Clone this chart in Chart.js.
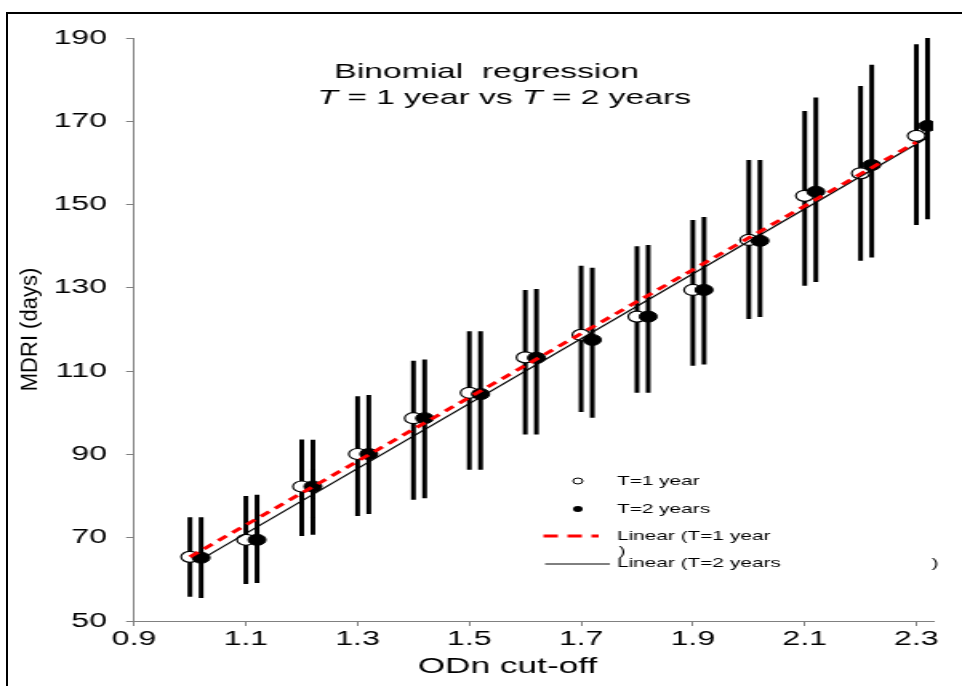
<!DOCTYPE html>
<html>
<head>
<meta charset="utf-8">
<script src="https://cdn.jsdelivr.net/npm/chart.js@4.4.1/dist/chart.umd.min.js"></script>
<style>
  html, body { margin: 0; padding: 0; background: #fff; overflow: hidden; }
  /* the reference chart is drawn wide: canvas is 601px and css stretches it to 962px */
  #chart { position: absolute; left: 0; top: 0; width: 962px; height: 686px; }
  #frame { position: absolute; left: 6px; top: 12px; right: 0; bottom: 0;
           border-left: 2px solid #000; border-top: 2px solid #000; pointer-events: none; }
</style>
</head>
<body>
<canvas id="chart" width="601" height="686" style="width:962px;height:686px"></canvas>
<div id="frame"></div>
<script>
const FONT = "'Liberation Sans', Arial, sans-serif"
const AXIS = "#808080"
const STRETCH = 962 / 601

// ODn cut-off
const odn1 = [1.0, 1.1, 1.2, 1.3, 1.4, 1.5, 1.6, 1.7, 1.8, 1.9, 2.0, 2.1, 2.2, 2.3]
const odn2 = [1.02, 1.12, 1.22, 1.32, 1.42, 1.52, 1.62, 1.72, 1.82, 1.92, 2.02, 2.12, 2.22, 2.32]

// MDRI (days), T = 1 year
const mdri1 = [65.4, 69.5, 82.3, 90.1, 98.7, 104.8, 113.3, 118.7, 123.1, 129.5, 141.5, 152.1, 157.5, 166.5]
const low1 = [55.8, 58.9, 70.4, 75.2, 79.1, 86.3, 94.8, 100.2, 104.8, 111.3, 122.5, 130.5, 136.5, 145.1]
const high1 = [74.9, 80.0, 93.6, 104.0, 112.5, 119.6, 129.5, 135.3, 140.0, 146.3, 160.7, 172.5, 178.5, 188.5]

// MDRI (days), T = 2 years
const mdri2 = [65.2, 69.5, 82.3, 90.1, 98.7, 104.5, 113.2, 117.5, 123.1, 129.5, 141.3, 153.1, 159.5, 168.9]
const low2 = [55.5, 59.1, 70.7, 75.7, 79.5, 86.3, 94.8, 98.8, 104.8, 111.6, 123.0, 131.4, 137.3, 146.5]
const high2 = [74.9, 80.3, 93.5, 104.3, 112.8, 119.6, 129.7, 134.8, 140.3, 147.0, 160.7, 175.7, 183.6, 190.3]

// linear trendlines, end points
const trendX1 = [1.0, 2.3]
const trendY1 = [65.4, 165.0]
const trendX2 = [1.02, 2.32]
const trendY2 = [64.8, 166.1]

const xTicks = [0.9, 1.1, 1.3, 1.5, 1.7, 1.9, 2.1, 2.3]
const yTicks = [50, 70, 90, 110, 130, 150, 170, 190]

const points = (xs, ys) => xs.map((x, i) => ({x, y: ys[i]}))

// one vertical segment per point, broken by a null
const errorBars = (xs, lo, hi) => {
  const out = []
  xs.forEach((x, i) => out.push({x, y: lo[i]}, {x, y: hi[i]}, {x, y: null}))
  return out
}

// write runs of plain / italic text centred on cx
const drawRuns = (ctx, runs, size, cx, cy) => {
  let total = 0
  runs.forEach(r => {
    ctx.font = `${r[1] ? "italic " : ""}${size}px ${FONT}`
    total += ctx.measureText(r[0]).width
  })
  let x = cx - total / 2
  ctx.textAlign = "left"
  runs.forEach(r => {
    ctx.font = `${r[1] ? "italic " : ""}${size}px ${FONT}`
    ctx.fillText(r[0], x, cy)
    x += ctx.measureText(r[0]).width
  })
}

const annotations = {
  id: "annotations",
  afterDraw(chart) {
    const ctx = chart.ctx
    ctx.save()
    ctx.fillStyle = "#000"
    ctx.textBaseline = "middle"

    // title
    drawRuns(ctx, [["Binomial  regression", false]], 21, 304, 72)
    drawRuns(ctx, [["T", true], [" = 1 year vs ", false], ["T", true], [" = 2 years", false]], 21, 315, 98)

    // x axis title
    ctx.font = `22px ${FONT}`
    ctx.textAlign = "center"
    ctx.fillText("ODn cut-off", 317, 667)

    // y axis title, not widened like the rest
    ctx.save()
    ctx.translate(19.5, (chart.chartArea.top + chart.chartArea.bottom) / 2)
    ctx.scale(1 / STRETCH, 1)
    ctx.rotate(-Math.PI / 2)
    ctx.fillText("MDRI (days)", 0, 0)
    ctx.restore()

    // legend
    ctx.lineWidth = 1
    ctx.strokeStyle = "#000"
    ctx.beginPath()
    ctx.arc(361, 481, 3, 0, Math.PI * 2)
    ctx.fillStyle = "#fff"
    ctx.fill()
    ctx.stroke()
    ctx.beginPath()
    ctx.arc(361, 509, 3, 0, Math.PI * 2)
    ctx.fillStyle = "#000"
    ctx.fill()

    ctx.beginPath()
    ctx.setLineDash([9, 6])
    ctx.lineWidth = 3
    ctx.strokeStyle = "#ff0000"
    ctx.moveTo(339.5, 536)
    ctx.lineTo(374, 536)
    ctx.stroke()
    ctx.setLineDash([])
    ctx.beginPath()
    ctx.lineWidth = 1
    ctx.strokeStyle = "#000"
    ctx.moveTo(340.5, 564)
    ctx.lineTo(381, 564)
    ctx.stroke()

    ctx.font = `13px ${FONT}`
    ctx.textAlign = "left"
    ctx.fillText("T=1 year", 385.5, 481)
    ctx.fillText("T=2 years", 385.5, 509)
    ctx.fillText("Linear (T=1 year", 385.5, 536)
    ctx.fillText(")", 386.5, 551)
    ctx.fillText("Linear (T=2 years", 385.5, 563)
    ctx.fillText(")", 582, 563)
    ctx.restore()
  }
}

new Chart(document.getElementById("chart"), {
  type: "scatter",
  data: {
    datasets: [
      {
        label: "Linear (T=1 year)",
        data: points(trendX1, trendY1),
        showLine: true,
        borderColor: "#ff0000",
        borderWidth: 3,
        borderDash: [7, 5],
        pointRadius: 0,
        order: 1,
      },
      {
        label: "Linear (T=2 years)",
        data: points(trendX2, trendY2),
        showLine: true,
        borderColor: "#000",
        borderWidth: 1.2,
        pointRadius: 0,
        order: 1,
      },
      {
        label: "T=2 years",
        data: points(odn2, mdri2),
        pointRadius: 5.5,
        backgroundColor: "#000",
        borderColor: "#000",
        borderWidth: 1,
        order: 2,
      },
      {
        label: "T=1 year",
        data: points(odn1, mdri1),
        pointRadius: 5.5,
        backgroundColor: "#fff",
        borderColor: "#000",
        borderWidth: 1.2,
        order: 3,
      },
      {
        label: "T=2 years range",
        data: errorBars(odn2, low2, high2),
        showLine: true,
        borderColor: "#000",
        borderWidth: 3,
        pointRadius: 0,
        order: 4,
      },
      {
        label: "T=1 year range",
        data: errorBars(odn1, low1, high1),
        showLine: true,
        borderColor: "#000",
        borderWidth: 3,
        pointRadius: 0,
        order: 4,
      },
    ],
  },
  options: {
    responsive: false,
    animation: false,
    events: [],
    layout: {padding: {top: 38, right: 18, left: 0, bottom: 0}},
    plugins: {
      legend: {display: false},
      tooltip: {enabled: false},
    },
    scales: {
      x: {
        type: "linear",
        min: 0.9,
        max: 2.33,
        afterBuildTicks: s => { s.ticks = xTicks.map(v => ({value: v})) },
        afterFit: s => { s.height = 65 },
        grid: {drawOnChartArea: false, tickLength: 5, color: AXIS},
        border: {color: AXIS, width: 1},
        ticks: {
          autoSkip: false,
          maxRotation: 0,
          padding: 1,
          color: "#000",
          font: {family: FONT, size: 20},
          callback: v => v.toFixed(1),
        },
      },
      y: {
        type: "linear",
        min: 50,
        max: 190,
        afterBuildTicks: s => { s.ticks = yTicks.map(v => ({value: v})) },
        afterFit: s => { s.width = 83.75 },
        grid: {drawOnChartArea: false, tickLength: 5, color: AXIS},
        border: {color: AXIS, width: 1},
        ticks: {
          autoSkip: false,
          padding: 12,
          color: "#000",
          font: {family: FONT, size: 20},
        },
      },
    },
  },
  plugins: [annotations],
})
</script>
</body>
</html>
